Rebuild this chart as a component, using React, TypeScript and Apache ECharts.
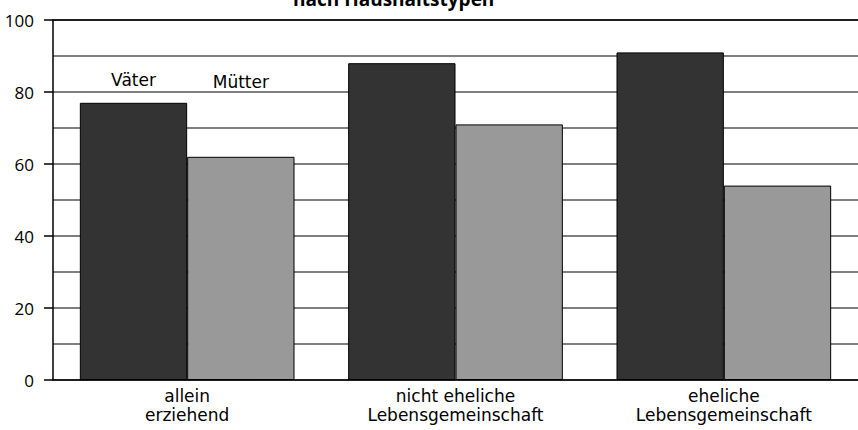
import React, { useEffect, useRef } from "react";
import * as echarts from "echarts";

const categories = ["allein\nerziehend", "nicht eheliche\nLebensgemeinschaft", "eheliche\nLebensgemeinschaft"];
const vaeter = [77, 88, 91];
const muetter = [62, 71, 54];
const seriesNames = ["Väter", "Mütter"];
const titleText = "nach Haushaltstypen";

const FONT = "'DejaVu Sans', 'Open Sans', sans-serif";
const NUMFONT = "'Open Sans', 'Noto Sans', sans-serif";

export default function App() {
  const ref = useRef<HTMLDivElement>(null);
  useEffect(() => {
    const chart = echarts.init(ref.current!, null, { renderer: "svg" });
    chart.setOption({
      animation: false,
      backgroundColor: "#fff",
      textStyle: { fontFamily: FONT },
      graphic: [
        {
          type: "text",
          left: 293,
          top: -11,
          style: { text: titleText, fontFamily: NUMFONT, fontWeight: "bold", fontSize: 19, fill: "#000" },
        },
      ],
      grid: { left: 53, right: 0, top: 20, bottom: 50 },
      xAxis: [
        {
          type: "category",
          data: categories,
          axisLine: { show: true, lineStyle: { color: "#000", width: 1.5 } },
          axisTick: { show: false },
          axisLabel: { color: "#000", fontSize: 17, lineHeight: 19, margin: 6, fontFamily: FONT },
        },
        {
          type: "category",
          position: "top",
          data: categories,
          axisLine: { show: true, lineStyle: { color: "#000", width: 1.5 } },
          axisTick: { show: false },
          axisLabel: { show: false },
        },
      ],
      yAxis: {
        type: "value",
        min: 0,
        max: 100,
        interval: 20,
        axisLine: { show: true, lineStyle: { color: "#000", width: 1.5 } },
        axisTick: { show: true, inside: false, length: 9, lineStyle: { color: "#000", width: 1.5 } },
        axisLabel: { color: "#000", fontSize: 17, margin: 19, fontFamily: NUMFONT },
        splitLine: { show: true, lineStyle: { color: "#555", width: 1.5 } },
        minorTick: { show: false, splitNumber: 2 },
        minorSplitLine: { show: true, lineStyle: { color: "#555", width: 1.5 } },
      },
      series: [
        {
          name: seriesNames[0],
          type: "bar",
          barGap: "0%",
          barCategoryGap: "20%",
          itemStyle: { color: "#333333", borderColor: "#000", borderWidth: 1 },
          data: vaeter.map((v, i) =>
            i === 0
              ? {
                  value: v,
                  label: { show: true, position: "top", distance: 14, formatter: seriesNames[0], color: "#000", fontSize: 17, fontFamily: FONT },
                }
              : v
          ),
        },
        {
          name: seriesNames[1],
          type: "bar",
          itemStyle: { color: "#999999", borderColor: "#000", borderWidth: 1 },
          data: muetter.map((v, i) =>
            i === 0
              ? {
                  value: v,
                  label: { show: true, position: "top", distance: 66, formatter: seriesNames[1], color: "#000", fontSize: 17, fontFamily: FONT },
                }
              : v
          ),
        },
      ],
    });
    return () => chart.dispose();
  }, []);
  return <div ref={ref} style={{ position: "fixed", left: 0, top: 0, width: 858, height: 430 }} />;
}
